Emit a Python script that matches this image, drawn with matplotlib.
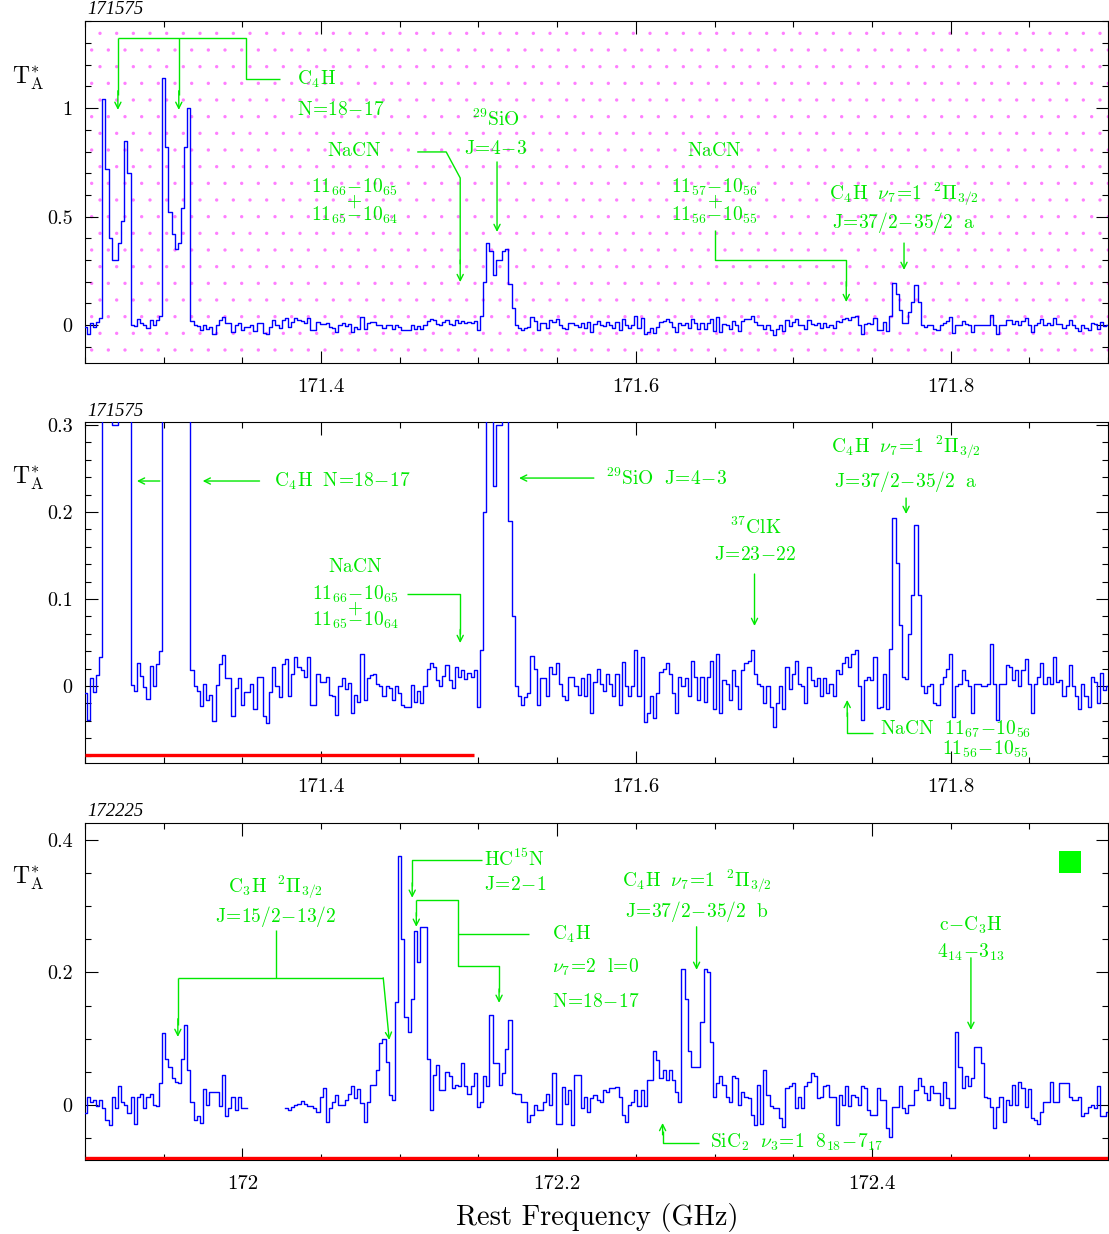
import numpy as np
import matplotlib
matplotlib.use("Agg")
import matplotlib.pyplot as plt
from matplotlib.patches import Rectangle
from matplotlib.ticker import FixedLocator, FixedFormatter, MultipleLocator

plt.rcParams["mathtext.fontset"] = "cm"
plt.rcParams["font.family"] = ["cmr10", "DejaVu Serif"]
plt.rcParams["axes.formatter.use_mathtext"] = True
plt.rcParams["hatch.linewidth"] = 0.0

# ---------------------------------------------------------------- data
# Spectrum "171575": antenna temperature (mK) on a 2 MHz channel grid
scan_a_name = "171575"
scan_a_start_ghz = 171.250
scan_a_step_ghz = 0.002
scan_a_mk = [
    -8, -39, 9, -7, 13, 33,
    1040, 720, 400, 300, 300, 380, 480, 850, 700,
    1, -6, 26, 11, -1, -15, 23, 0, 25, 40,
    1140, 820, 520, 420, 350, 380, 540, 820, 1000,
    18, 0, -6, -23, 2, -16, -10, -40, 1, 25, 36, 9, 9, -34, -2, 9,
    -22, -7, -7, 2, -27, 10, 10, -35, -43, -7, 22, 0, -13, 25, 31, -11,
    14, 33, 22, 18, 10, 33, -22, -22, 14, 5, 5, 10, -10, -12, -33, 0,
    9, -4, 3, -31, -10, -18, 37, -16, 9, 13, 14, 2, 0, -12, 0, -2,
    -16, 0, -8, -22, -24, -24, 1, -18, -6, -20, 0, 20, 26, 22, 7, 0,
    12, 24, 7, -2, 22, 10, 18, 8, 15, 10, 18, -24, 41,
    200, 380, 340, 230, 300, 300, 340, 350, 190, 80, 0,
    -12, -22, -13, -8, 35, 20, -22, 9, 9, -12, 22, 14, 26, 2, -12, -16,
    10, 10, 0, -10, 9, -12, 14, -31, 5, 20, 2, -6, 14, 2, -12, 14,
    -22, 28, 0, -12, 0, 41, -12, 33, -41, -31, -12, -37, -8, 16, 20, 26,
    14, -8, -31, 10, 0, 9, -12, 29, 10, -16, 10,
    -18, 10, 29, -27, 37, -31, 7, 2, -16, 18, 0, -27, 18, 26, 29, 41,
    14, 2, 0, -20, 0, -24, -47, -20, 0, -27, 22, -4, 14, 29, 2, 0,
    -20, 22, 7, 0, 9, -12, 9, -8, 2, -12, 18, 14, 26, 33, 22, 37,
    41, 0, -39, 7, 10, 7, 33, -25, -24, 14, -27, 43,
    193, 141, 70, 10, 8, 60, 105, 185, 105,
    0, -8, 0, 2, -20, -22, 2, 10, 20, 37, -36, 0, 2, 18, 7, 0,
    -31, 2, 2, 0, 0, 2, 48, 2, -39, 2, 2, 24, 22, 7, 18, 0,
    18, 31, 2, -31, 2, 10, 26, 2, 10, 2, 33, 5, 7, -12, 0, 24,
    0, -12, -27, 2, -12, -24, 10, 5, -20, 15, -5, 0,
]

# Spectrum "172225": same channel width; None marks blanked channels
scan_b_name = "172225"
scan_b_start_ghz = 171.900
scan_b_step_ghz = 0.002
scan_b_mk = [
    -12, 12, 4, 7, -2, 7, -5, -22, -30, 12, -5, 28, 5, 0, -12, 12,
    -28, 12, 17, -5, 12, 17, 0, -2, 33, 108, 70, 58, 40, 35, 33, 70,
    120, 53, 5, -22, -17, -27, 24, 0, 20, 20, 20, -2, 45, -17, -5, 12,
    -7, 12, -5, -5,
    None, None, None, None, None, None, None, None, None, None, None, None,
    -5,
    -8, -3, 0, 2, 6, 2, -2, -2, -5, -10, 12, 25, -25, -5, 5, 15,
    0, 0, 8, 17, 28, 10, 24, 3, -25, 5, 30, 30, 53, 93, 100, 65,
    15, 8, 155, 376, 250, 133, 110, 160, 263, 215, 268, 268, 70, -7, 45, 60,
    22, 22, 50, 43, 25, 30, 28, 63, 28, 17, 28, 48, -3, 5, 43, 28, 135,
    63, 63, 30, 48, 84, 128, 18, 17, 17, 5, 5, -25, -15, 0, -7, -7,
    5, 16, 0, 48, -28, -28, 27, 2, 22, -30, 45, 45, -5, 12, -10, 11,
    15, 7, 4, 22, 20, 25, 26, 27, 12, -15, -25, 0, 5, 22, -2, 22,
    -2, 38, 38, 82, 68, 40, 53, 38, 53, 38, 20, 5, 205, 160, 82, 58,
    58, 58, 125,
    205, 200, 95, 12, 33, 43, 30, 12, 4, 43, 40, 0, 20, 12, 10, -15,
    -30, 30, -28, 53, 15, -2, -5, -5, -20, -33, 25, 28, 33, -5, 12, -5,
    28, 35, 48, 43, 10, 12, 28, 30, 12, 12, -30, 15, 0, 28, -2, 15,
    12, 0, 28, 25, -7, -15, -15, 25, 8, 8, -35, -48,
    -3, -3, 28, -5, -12, 0, 0, 22, 40, 28, 18, 8, 28, 18, 18, 0,
    35, 10, -5, -5, 110, 58, 25, 43, 28, 40, 88, 88, 63, 12, 10, -3,
    -35, -3, 12, -25, 8, 0, 30, 0, 35, 25, -3, 24, -20, -22, -28, -10,
    5, 5, 35, 5, 5, 33, 33, 33, 12, 8, 8, 12, -17, -12, -3, 0,
    -5, 28, -17, -17, -10,
]

# Axis ranges and tick labels
xrange_a = (171.25, 171.90)
xrange_b = (171.90, 172.55)
ylim_top = (-0.175, 1.404)
ylim_mid = (-0.0885, 0.304)
ylim_bot = (-0.083, 0.426)
xticks_a = [171.4, 171.6, 171.8]
xticks_a_labels = ["171.4", "171.6", "171.8"]
xticks_b = [172.0, 172.2, 172.4]
xticks_b_labels = ["172", "172.2", "172.4"]
yticks_top = [0, 0.5, 1]
yticks_top_labels = ["0", "0.5", "1"]
yticks_mid = [0, 0.1, 0.2, 0.3]
yticks_mid_labels = ["0", "0.1", "0.2", "0.3"]
yticks_bot = [0, 0.2, 0.4]
yticks_bot_labels = ["0", "0.2", "0.4"]

# Baseline windows (GHz, K)
baseline_mid = ([171.25, 171.4972], -0.0793)
baseline_bot = ([171.90, 172.55], -0.080)

# ---------------------------------------------------------------- helpers
GREEN = "#00e800"
BLUE = "#0000ff"
W, H = 1109, 1234


def to_kelvin(values_mk):
    return np.array([np.nan if v is None else v / 1000.0 for v in values_mk])


freq_a = scan_a_start_ghz + scan_a_step_ghz * np.arange(len(scan_a_mk))
ta_a = to_kelvin(scan_a_mk)
freq_b = scan_b_start_ghz + scan_b_step_ghz * np.arange(len(scan_b_mk))
ta_b = to_kelvin(scan_b_mk)


def label(ax, x, y, s, ha="center", size=14, spacing=1.2):
    ax.text(x, y, s, color=GREEN, fontsize=size, ha=ha, va="center",
            multialignment="center", linespacing=spacing)


def leader(ax, xs, ys):
    ax.plot(xs, ys, color=GREEN, lw=1.0, solid_capstyle="butt", clip_on=False)


def arrow(ax, x0, y0, x1, y1):
    ax.annotate("", xy=(x1, y1), xytext=(x0, y0),
                arrowprops=dict(arrowstyle="->", color=GREEN, lw=1.0,
                                shrinkA=0, shrinkB=0, mutation_scale=11))


def style_axes(ax, xr, yl, xt, xtl, yt, ytl, xminor, yminor):
    ax.set_xlim(*xr)
    ax.set_ylim(*yl)
    ax.xaxis.set_major_locator(FixedLocator(xt))
    ax.xaxis.set_major_formatter(FixedFormatter(xtl))
    ax.yaxis.set_major_locator(FixedLocator(yt))
    ax.yaxis.set_major_formatter(FixedFormatter(ytl))
    ax.xaxis.set_minor_locator(MultipleLocator(xminor))
    ax.yaxis.set_minor_locator(MultipleLocator(yminor))
    ax.tick_params(which="both", direction="in", top=True, right=True,
                   width=0.8, color="black")
    ax.tick_params(which="major", length=9)
    ax.tick_params(which="minor", length=4.5)
    ax.tick_params(axis="x", labelsize=15, pad=11)
    ax.tick_params(axis="y", labelsize=14.5, pad=9)
    for sp in ax.spines.values():
        sp.set_linewidth(0.8)


def axes_box(top_px, bottom_px):
    return [85 / W, 1 - bottom_px / H, 1023 / W, (bottom_px - top_px) / H]


fig = plt.figure(figsize=(W / 100, H / 100), dpi=100)
fig.patch.set_facecolor("white")

ax1 = fig.add_axes(axes_box(20.5, 363))
ax2 = fig.add_axes(axes_box(421.5, 763))
ax3 = fig.add_axes(axes_box(822.5, 1160))

# ---------------------------------------------------------------- top panel
# faint magenta speckle behind the top spectrum
ax1.add_patch(Rectangle((0, 0), 1, 1, transform=ax1.transAxes,
                        facecolor="none", edgecolor=(1.0, 0.0, 1.0, 0.5),
                        hatch=".", lw=0, zorder=0.5))
ax1.plot(freq_a, ta_a, drawstyle="steps-mid", color=BLUE, lw=1.0, zorder=3)
style_axes(ax1, xrange_a, ylim_top, xticks_a, xticks_a_labels,
           yticks_top, yticks_top_labels, 0.05, 0.1)

leader(ax1, [171.2709, 171.2709], [1.324, 1.06])
arrow(ax1, 171.2709, 1.08, 171.2709, 0.992)
leader(ax1, [171.3096, 171.3096], [1.324, 1.06])
arrow(ax1, 171.3096, 1.08, 171.3096, 0.992)
leader(ax1, [171.2709, 171.3521, 171.3521, 171.3736],
       [1.324, 1.324, 1.135, 1.135])
label(ax1, 171.3844, 1.131, r"$\mathrm{C_4H}$", ha="left")
label(ax1, 171.3844, 0.992, r"$\mathrm{N\!=\!18\!-\!17}$", ha="left")

label(ax1, 171.4212, 0.803, r"$\mathrm{NaCN}$")
label(ax1, 171.4212, 0.572,
      "$11_{66}\\!-\\!10_{65}$\n$+$\n$11_{65}\\!-\\!10_{64}$", spacing=0.62)
leader(ax1, [171.4611, 171.4795, 171.4884, 171.4884],
       [0.798, 0.798, 0.678, 0.28])
arrow(ax1, 171.4884, 0.30, 171.4884, 0.198)

label(ax1, 171.5112, 0.946, r"$^{29}\mathrm{SiO}$")
label(ax1, 171.5112, 0.812, r"$\mathrm{J\!=\!4\!-\!3}$")
arrow(ax1, 171.5118, 0.752, 171.5118, 0.429)

label(ax1, 171.650, 0.803, r"$\mathrm{NaCN}$")
label(ax1, 171.650, 0.572,
      "$11_{57}\\!-\\!10_{56}$\n$+$\n$11_{56}\\!-\\!10_{55}$", spacing=0.62)
leader(ax1, [171.650, 171.650, 171.7337, 171.7337],
       [0.438, 0.300, 0.300, 0.18])
arrow(ax1, 171.7337, 0.20, 171.7337, 0.106)

label(ax1, 171.7704, 0.600, r"$\mathrm{C_4H}\ \ \nu_7\!=\!1\ \ ^2\Pi_{3/2}$")
label(ax1, 171.7704, 0.471, r"$\mathrm{J\!=\!37/2\!-\!35/2\ \ a}$")
arrow(ax1, 171.7704, 0.378, 171.7704, 0.254)

# ---------------------------------------------------------------- middle panel
ax2.plot(freq_a, ta_a, drawstyle="steps-mid", color=BLUE, lw=1.0, zorder=3)
ax2.plot(baseline_mid[0], [baseline_mid[1]] * 2, color="red", lw=2.4,
         solid_capstyle="butt", zorder=4)
style_axes(ax2, xrange_a, ylim_mid, xticks_a, xticks_a_labels,
           yticks_mid, yticks_mid_labels, 0.05, 0.02)

arrow(ax2, 171.2975, 0.2356, 171.2830, 0.2356)
arrow(ax2, 171.3609, 0.2356, 171.3248, 0.2356)
label(ax2, 171.3704, 0.2356, r"$\mathrm{C_4H\ \ N\!=\!18\!-\!17}$", ha="left")

arrow(ax2, 171.5733, 0.239, 171.5258, 0.239)
label(ax2, 171.5809, 0.239, r"$^{29}\mathrm{SiO\ \ J\!=\!4\!-\!3}$", ha="left")

label(ax2, 171.4218, 0.1368, r"$\mathrm{NaCN}$")
label(ax2, 171.4218, 0.0900,
      "$11_{66}\\!-\\!10_{65}$\n$+$\n$11_{65}\\!-\\!10_{64}$", spacing=0.55)
leader(ax2, [171.4548, 171.4884, 171.4884], [0.1057, 0.1057, 0.06])
arrow(ax2, 171.4884, 0.065, 171.4884, 0.0494)

label(ax2, 171.676, 0.1828, r"$^{37}\mathrm{ClK}$")
label(ax2, 171.676, 0.1506, r"$\mathrm{J\!=\!23\!-\!22}$")
arrow(ax2, 171.6754, 0.1287, 171.6754, 0.069)

label(ax2, 171.7717, 0.2747, r"$\mathrm{C_4H}\ \ \nu_7\!=\!1\ \ ^2\Pi_{3/2}$")
label(ax2, 171.7717, 0.2345, r"$\mathrm{J\!=\!37/2\!-\!35/2\ \ a}$")
arrow(ax2, 171.7717, 0.216, 171.7717, 0.1977)

leader(ax2, [171.7508, 171.7343, 171.7343], [-0.054, -0.054, -0.03])
arrow(ax2, 171.7343, -0.035, 171.7343, -0.016)
label(ax2, 171.7552, -0.0494, r"$\mathrm{NaCN}\ \ 11_{67}\!-\!10_{56}$", ha="left")
label(ax2, 171.7945, -0.0724, r"$11_{56}\!-\!10_{55}$", ha="left")

# ---------------------------------------------------------------- bottom panel
ax3.plot(freq_b, ta_b, drawstyle="steps-mid", color=BLUE, lw=1.0, zorder=3)
ax3.plot(baseline_bot[0], [baseline_bot[1]] * 2, color="red", lw=2.4,
         solid_capstyle="butt", zorder=4)
style_axes(ax3, xrange_b, ylim_bot, xticks_b, xticks_b_labels,
           yticks_bot, yticks_bot_labels, 0.05, 0.05)

label(ax3, 172.0211, 0.3275, r"$\mathrm{C_3H}\ \ ^2\Pi_{3/2}$")
label(ax3, 172.0211, 0.2838, r"$\mathrm{J\!=\!15/2\!-\!13/2}$")
leader(ax3, [172.0211, 172.0211], [0.2642, 0.1917])
leader(ax3, [171.9590, 172.0895], [0.1917, 0.1917])
leader(ax3, [171.9590, 171.9590], [0.1917, 0.12])
arrow(ax3, 171.9590, 0.13, 171.9590, 0.1026)
arrow(ax3, 172.0895, 0.1917, 172.0933, 0.0981)

label(ax3, 172.1536, 0.3698, r"$\mathrm{HC^{15}N}$", ha="left")
label(ax3, 172.1536, 0.332, r"$\mathrm{J\!=\!2\!-\!1}$", ha="left")
leader(ax3, [172.1523, 172.1079, 172.1079], [0.3698, 0.3698, 0.33])
arrow(ax3, 172.1079, 0.335, 172.1079, 0.3125)

label(ax3, 172.1967, 0.2581, r"$\mathrm{C_4H}$", ha="left")
label(ax3, 172.1967, 0.2068, r"$\nu_7\!=\!2\ \ \mathrm{l\!=\!0}$", ha="left")
label(ax3, 172.1967, 0.1555, r"$\mathrm{N\!=\!18\!-\!17}$", ha="left")
leader(ax3, [172.1821, 172.1371], [0.2581, 0.2581])
leader(ax3, [172.1105, 172.1371, 172.1371, 172.1631, 172.1631],
       [0.3094, 0.3094, 0.2098, 0.2098, 0.17])
leader(ax3, [172.1105, 172.1105], [0.3094, 0.285])
arrow(ax3, 172.1105, 0.29, 172.1105, 0.2687)
arrow(ax3, 172.1631, 0.175, 172.1631, 0.154)

label(ax3, 172.2886, 0.3366, r"$\mathrm{C_4H}\ \ \nu_7\!=\!1\ \ ^2\Pi_{3/2}$")
label(ax3, 172.2886, 0.2913, r"$\mathrm{J\!=\!37/2\!-\!35/2\ \ b}$")
arrow(ax3, 172.2886, 0.2687, 172.2886, 0.2038)

label(ax3, 172.4629, 0.2717, r"$\mathrm{c\!-\!C_3H}$")
label(ax3, 172.4629, 0.2309, r"$4_{14}\!-\!3_{13}$")
arrow(ax3, 172.4629, 0.2219, 172.4629, 0.1132)

leader(ax3, [172.2899, 172.2670, 172.2670], [-0.0574, -0.0574, -0.04])
arrow(ax3, 172.2670, -0.045, 172.2670, -0.0272)
label(ax3, 172.2968, -0.0558,
      r"$\mathrm{SiC_2}\ \ \nu_3\!=\!1\ \ 8_{18}\!-\!7_{17}$", ha="left")

ax3.add_patch(Rectangle((0.9521, 0.8516), 0.0215, 0.0653,
                        transform=ax3.transAxes, facecolor="#00ff00",
                        edgecolor="none", zorder=5))

# ---------------------------------------------------------------- frame texts
for name, ypx in [(scan_a_name, 9), (scan_a_name, 411), (scan_b_name, 811)]:
    fig.text(87 / W, 1 - ypx / H, name, ha="left", va="center",
             fontsize=13.5, style="italic", family="Liberation Serif")

for ypx in (78, 478, 878):
    fig.text(28 / W, 1 - ypx / H, r"$\mathrm{T}_{\mathrm{A}}^{*}$",
             ha="center", va="center", fontsize=17)

fig.text(597 / W, 1 - 1217 / H, "Rest Frequency (GHz)", ha="center",
         va="center", fontsize=20.5)

fig.savefig("out.png", dpi=100, facecolor="white")
